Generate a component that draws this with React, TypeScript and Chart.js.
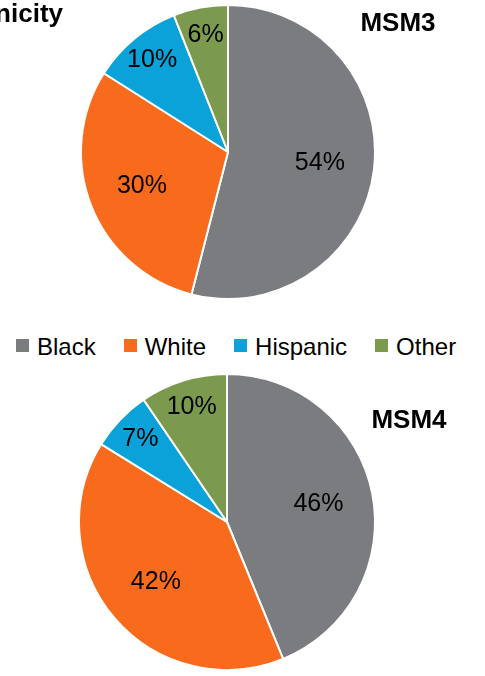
import React, { useEffect, useRef } from "react";
import { Chart, registerables } from "chart.js";

Chart.register(...registerables);

const categories = ["Black", "White", "Hispanic", "Other"];
const msm3Values = [54, 30, 10, 6];
const msm4Values = [46, 42, 7, 10];
const sliceColors = ["#7b7c80", "#f96b1c", "#0aa2d8", "#7b9a4e"];
const mainTitle = "Race/Ethnicity";
const msm3Title = "MSM3";
const msm4Title = "MSM4";

const FONT = '"Liberation Sans", Arial, Helvetica, sans-serif';

const sliceLabelPlugin = {
  id: "sliceLabels",
  afterDatasetsDraw(chart: any) {
    const { ctx } = chart;
    const meta = chart.getDatasetMeta(0);
    const data: number[] = chart.data.datasets[0].data;
    const total = data.reduce((a, b) => a + b, 0);
    ctx.save();
    ctx.font = `25px ${FONT}`;
    ctx.fillStyle = "#000";
    ctx.textAlign = "center";
    ctx.textBaseline = "middle";
    meta.data.forEach((arc: any, i: number) => {
      const p = arc.getProps(["x", "y", "startAngle", "endAngle", "outerRadius"], true);
      const mid = (p.startAngle + p.endAngle) / 2;
      const share = data[i] / total;
      const f = share < 0.15 ? 0.81 : 0.63;
      ctx.fillText(`${data[i]}%`, p.x + Math.cos(mid) * p.outerRadius * f, p.y + Math.sin(mid) * p.outerRadius * f);
    });
    ctx.restore();
  },
};

const cornerTextPlugin = {
  id: "cornerText",
  afterDraw(chart: any, _args: any, opts: any) {
    const { ctx } = chart;
    (opts.items || []).forEach((it: any) => {
      ctx.save();
      ctx.font = `bold 26px ${FONT}`;
      ctx.fillStyle = "#000";
      ctx.textAlign = it.align;
      ctx.textBaseline = it.baseline;
      ctx.fillText(it.text, it.x, it.y);
      ctx.restore();
    });
  },
};

function makePie(canvas: HTMLCanvasElement, values: number[], padding: any, items: any[]) {
  return new Chart(canvas, {
    type: "pie",
    data: {
      labels: categories,
      datasets: [
        {
          data: values,
          backgroundColor: sliceColors,
          borderColor: "#ffffff",
          borderWidth: 2,
        },
      ],
    },
    options: {
      responsive: false,
      animation: false,
      layout: { padding },
      plugins: {
        legend: { display: false },
        tooltip: { enabled: false },
        cornerText: { items },
      } as any,
    },
    plugins: [sliceLabelPlugin, cornerTextPlugin],
  });
}

export default function App() {
  const topRef = useRef<HTMLCanvasElement>(null);
  const botRef = useRef<HTMLCanvasElement>(null);

  useEffect(() => {
    const c1 = makePie(
      topRef.current!,
      msm3Values,
      { left: 80, right: 109, top: 4, bottom: 10 },
      [
        { text: mainTitle, x: 63, y: 22, align: "right", baseline: "alphabetic" },
        { text: msm3Title, x: 398, y: 24, align: "center", baseline: "middle" },
      ]
    );
    const c2 = makePie(
      botRef.current!,
      msm4Values,
      { left: 78, right: 109, top: 8, bottom: 5 },
      [{ text: msm4Title, x: 409, y: 56, align: "center", baseline: "middle" }]
    );
    return () => {
      c1.destroy();
      c2.destroy();
    };
  }, []);

  return (
    <div style={{ position: "absolute", left: 0, top: 0, width: 485, height: 676, background: "#fff", overflow: "hidden" }}>
      <canvas ref={topRef} width={485} height={310} style={{ position: "absolute", left: 0, top: 0, width: 485, height: 310 }} />
      <div
        style={{
          position: "absolute",
          left: 16,
          top: 331,
          height: 32,
          display: "flex",
          alignItems: "center",
          gap: 28,
          fontFamily: FONT,
          fontSize: 24,
          lineHeight: "32px",
          color: "#000",
          whiteSpace: "nowrap",
        }}
      >
        {categories.map((c, i) => (
          <div key={c} style={{ display: "flex", alignItems: "center" }}>
            <span style={{ display: "inline-block", width: 13, height: 13, background: sliceColors[i], marginRight: 8, position: "relative", top: -2 }} />
            <span>{c}</span>
          </div>
        ))}
      </div>
      <canvas ref={botRef} width={485} height={311} style={{ position: "absolute", left: 0, top: 365, width: 485, height: 311 }} />
    </div>
  );
}
